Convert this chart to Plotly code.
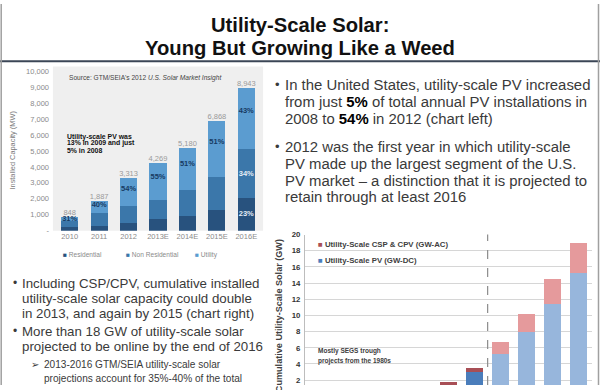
import plotly.graph_objects as go
import numpy as np

W, H = 600, 390
FONT = "Liberation Sans"

# ---------------- data: left chart (annual installations, MW) ----------------
years_left = ["2010", "2011", "2012", "2013E", "2014E", "2015E", "2016E"]
residential = [250, 302, 488, 720, 920, 1290, 2057]
non_residential = [335, 827, 1036, 1201, 1618, 2075, 3041]
utility = [263, 758, 1789, 2348, 2642, 3503, 3845]
total_labels = ["848", "1,887", "3,313", "4,269", "5,180", "6,868", "8,943"]
utility_pct = ["31%", "40%", "54%", "55%", "51%", "51%", "43%"]
nonres_pct = ["", "", "", "", "", "", "34%"]
res_pct = ["", "", "", "", "", "", "23%"]
left_ticks = [0, 1000, 2000, 3000, 4000, 5000, 6000, 7000, 8000, 9000, 10000]
left_ticktext = ["-", "1,000", "2,000", "3,000", "4,000", "5,000", "6,000",
                 "7,000", "8,000", "9,000", "10,000"]

# ---------------- data: right chart (cumulative, GW) ----------------
years_right = ["Pre-2007", "2007", "2008", "2009", "2010", "2011", "2012",
               "2013", "2014", "2015", "2016"]
period = ["actual"] * 7 + ["projected"] * 4
pv_gw = [0.01, 0.02, 0.07, 0.20, 0.45, 1.20, 3.00, 5.22, 7.90, 11.40, 15.20]
csp_gw = [0.42, 0.48, 0.48, 0.50, 0.50, 0.53, 0.54, 1.53, 2.28, 3.10, 3.70]
right_ticks = [2, 4, 6, 8, 10, 12, 14, 16, 18, 20]

# ---------------- slide text ----------------
title_lines = ["Utility-Scale Solar:", "Young But Growing Like a Weed"]
right_bullets = [
    ["In the United States, utility-scale PV increased",
     "from just <b><span style='color:#000'>5%</span></b> of total annual PV installations in",
     "2008 to <b><span style='color:#000'>54%</span></b> in 2012 (chart left)"],
    ["2012 was the first year in which utility-scale",
     "PV made up the largest segment of the U.S.",
     "PV market \u2013 a distinction that it is projected to",
     "retain through at least 2016"],
]
left_bullets = [
    ["Including CSP/CPV, cumulative installed",
     "utility-scale solar capacity could double",
     "in 2013, and again by 2015 (chart right)"],
    ["More than 18 GW of utility-scale solar",
     "projected to be online by the end of 2016"],
]
sub_bullet = ["2013-2016 GTM/SEIA utility-scale solar",
              "projections account for 35%-40% of the total"]
source_text = "Source: GTM/SEIA's 2012 <i>U.S. Solar Market Insight</i>"
note_lines = ["Utility-scale PV was", "13% in 2009 and just", "5% in 2008"]
segs_lines = ["Mostly SEGS trough", "projects from the 1980s"]

# colours
C_RES, C_NON, C_UTIL = "#28527e", "#3b77aa", "#5b9cd0"
C_PV_ACT, C_CSP_ACT = "#4a7dbb", "#a84f56"
C_PV_PRJ, C_CSP_PRJ = "#97b6dc", "#e59a9c"


def px(x, y):
    return x / W, 1 - y / H


fig = go.Figure()

# ---------- left stacked bars ----------
for vals, col, name in [(residential, C_RES, "Residential"),
                        (non_residential, C_NON, "Non Residential"),
                        (utility, C_UTIL, "Utility")]:
    fig.add_trace(go.Bar(x=years_left, y=vals, name=name, marker_color=col,
                         marker_line_width=0, width=0.58, xaxis="x", yaxis="y",
                         showlegend=False))

res_a = np.array(residential, float)
non_a = np.array(non_residential, float)
uti_a = np.array(utility, float)
tot_a = res_a + non_a + uti_a

fig.add_trace(go.Scatter(x=years_left, y=tot_a, mode="text", text=total_labels,
                         textposition="top center",
                         textfont=dict(family=FONT, size=7.5, color="#9a9a9a"),
                         xaxis="x", yaxis="y", showlegend=False, cliponaxis=False))
fig.add_trace(go.Scatter(x=years_left, y=res_a + non_a + 0.62 * uti_a, mode="text",
                         text=utility_pct, textposition="middle center",
                         textfont=dict(family=FONT, size=7.5, color="#173a62", weight="bold"),
                         xaxis="x", yaxis="y", showlegend=False))
fig.add_trace(go.Scatter(x=years_left, y=res_a + 0.5 * non_a, mode="text",
                         text=nonres_pct, textposition="middle center",
                         textfont=dict(family=FONT, size=7.5, color="#e4edf7", weight="bold"),
                         xaxis="x", yaxis="y", showlegend=False))
fig.add_trace(go.Scatter(x=years_left, y=0.5 * res_a, mode="text",
                         text=res_pct, textposition="middle center",
                         textfont=dict(family=FONT, size=7.5, color="#e4edf7", weight="bold"),
                         xaxis="x", yaxis="y", showlegend=False))

# ---------- right stacked bars ----------
pv_cols = [C_PV_ACT if p == "actual" else C_PV_PRJ for p in period]
csp_cols = [C_CSP_ACT if p == "actual" else C_CSP_PRJ for p in period]
fig.add_trace(go.Bar(x=years_right, y=pv_gw, marker_color=pv_cols, marker_line_width=0,
                     width=0.65, xaxis="x2", yaxis="y2", showlegend=False,
                     name="Utility-Scale PV (GW-DC)"))
fig.add_trace(go.Bar(x=years_right, y=csp_gw, marker_color=csp_cols, marker_line_width=0,
                     width=0.65, xaxis="x2", yaxis="y2", showlegend=False,
                     name="Utility-Scale CSP & CPV (GW-AC)"))

ann = []


def text(x, y, t, size, color="#3a3a3a", anchor="left", bold=False, angle=0, yanchor="middle"):
    xx, yy = px(x, y)
    ann.append(dict(x=xx, y=yy, xref="paper", yref="paper", text=t, showarrow=False,
                    xanchor=anchor, yanchor=yanchor, textangle=angle,
                    font=dict(family=FONT, size=size, color=color,
                              weight="bold" if bold else "normal")))


# title
text(300, 22, title_lines[0], 20.2, "#111111", "center", True)
text(300, 45, title_lines[1], 20.2, "#111111", "center", True)

# right bullets
ys_right = [[82.7, 100.0, 117.3], [146.0, 163.3, 180.7, 198.0]]
for lines, ys in zip(right_bullets, ys_right):
    text(272.5, ys[0], "\u2022", 13, "#3a3a3a")
    for ln, yy in zip(lines, ys):
        text(282.5, yy, ln, 14.9, "#3a3a3a")

# left bullets
ys_left = [[285.7, 301.3, 316.9], [335.0, 350.8]]
for lines, ys in zip(left_bullets, ys_left):
    text(10.5, ys[0], "\u2022", 12, "#3a3a3a")
    for ln, yy in zip(lines, ys):
        text(20.3, yy, ln, 13.3, "#3a3a3a")
text(28.5, 369, "\u27a2", 9.5, "#3a3a3a")
for ln, yy in zip(sub_bullet, [369.0, 383.5]):
    text(41.5, yy, ln, 10.1, "#3a3a3a")

# left chart texts
text(66.5, 75.7, source_text, 6.6, "#444444")
for ln, yy in zip(note_lines, [135.7, 142.6, 149.5]):
    text(65, yy, ln, 6.9, "#111111", bold=True)
text(13, 150, "Installed Capacity (MW)", 7.4, "#7a7a7a", "center", angle=-90)
legend_left = [(60.5, C_RES, "Residential"), (123.5, C_NON, "Non Residential"),
               (192.5, C_UTIL, "Utility")]
for xx, col, lab in legend_left:
    text(xx, 256.7, f"<span style='color:{col}'>\u25a0</span> {lab}", 6.6, "#8a8a8a")

# right chart texts
text(278.5, 319, "Cumulative Utility-Scale Solar (GW)", 9.1, "#404040", "center", True, -90)
text(315.5, 245.7, f"<span style='color:{C_CSP_ACT}'>\u25a0</span> Utility-Scale CSP &amp; CPV (GW-AC)",
     7.8, "#404040", bold=True)
text(315.5, 263.0, f"<span style='color:{C_PV_ACT}'>\u25a0</span> Utility-Scale PV (GW-DC)",
     7.8, "#404040", bold=True)
for ln, yy in zip(segs_lines, [355.0, 365.7]):
    text(315.5, yy, ln, 6.5, "#404040", bold=True)
ann.append(dict(x=years_right[0], y=pv_gw[0] + csp_gw[0], xref="x2", yref="y2",
                text="", showarrow=True, ax=12, ay=-26, arrowhead=0,
                arrowwidth=1, arrowcolor="#404040"))

shapes = [
    # left chart plot background
    dict(type="rect", xref="x domain", yref="y domain", x0=-0.01, x1=1.01, y0=0, y1=1,
         fillcolor="#efefef", line_width=0, layer="below"),
    # separator between actual and projected
    dict(type="line", xref="x2", yref="y2 domain", x0=6.5, x1=6.5, y0=0, y1=1,
         line=dict(color="#8c8c8c", width=1.2, dash="dash")),
    # slide frame / title rule
    dict(type="line", xref="paper", yref="paper", x0=0, x1=1, y0=px(0, 58.5)[1],
         y1=px(0, 58.5)[1], line=dict(color="#3b4656", width=2)),
    dict(type="line", xref="paper", yref="paper", x0=px(1.2, 0)[0], x1=px(1.2, 0)[0],
         y0=0, y1=1, line=dict(color="#a0a0a0", width=1.5)),
    dict(type="line", xref="paper", yref="paper", x0=px(598.5, 0)[0], x1=px(598.5, 0)[0],
         y0=0, y1=1, line=dict(color="#a0a0a0", width=1.5)),
]

fig.update_layout(
    width=W, height=H, autosize=False,
    margin=dict(l=0, r=0, t=0, b=0, pad=0),
    paper_bgcolor="#ffffff", plot_bgcolor="rgba(0,0,0,0)",
    barmode="stack", bargap=0.4,
    showlegend=False,
    font=dict(family=FONT),
    annotations=ann, shapes=shapes,
    xaxis=dict(domain=[55 / W, 261 / W], type="category", range=[-0.5, 6.5],
               showgrid=False, zeroline=False, showline=False, ticks="",
               tickfont=dict(family=FONT, size=7.5, color="#8a8a8a")),
    yaxis=dict(domain=[158 / H, 326 / H], range=[0, 10300], tickvals=left_ticks,
               ticktext=left_ticktext, showgrid=False, zeroline=False, showline=False,
               ticks="", ticklabelstandoff=5,
               tickfont=dict(family=FONT, size=7.5, color="#8a8a8a")),
    xaxis2=dict(domain=[305 / W, 592 / W], type="category", range=[-0.5, 10.5],
                showgrid=False, zeroline=False, showline=False, ticks="",
                showticklabels=False, anchor="y2"),
    yaxis2=dict(domain=[0, (H - 236) / H], range=[1.4, 20], tickvals=right_ticks,
                showgrid=True, gridcolor="#d6d6d6", gridwidth=1, zeroline=False,
                showline=True, linecolor="#bdbdbd", ticks="", anchor="x2",
                ticklabelstandoff=2,
                tickfont=dict(family=FONT, size=7.8, color="#333333", weight="bold")),
)

fig.write_html(
    "out.html",
    config={"displayModeBar": False, "staticPlot": True},
    post_script="document.body.style.margin='0';document.body.style.padding='0';"
                "document.body.style.overflow='hidden';",
)
